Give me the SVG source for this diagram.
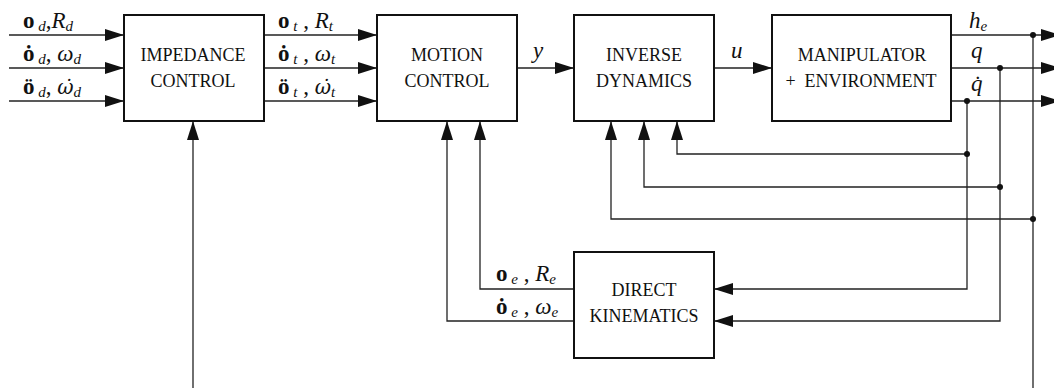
<svg xmlns="http://www.w3.org/2000/svg" width="1054" height="388" viewBox="0 0 1054 388">
<style>
.box{fill:#fff;stroke:#111;stroke-width:2}
.lbl{font-family:'Liberation Serif',serif;font-size:18px;fill:#111;text-anchor:middle}
.ln{fill:none;stroke:#222;stroke-width:1.3}
.m{font-family:'Liberation Serif',serif;font-size:23px;fill:#111;font-style:italic}
.b{font-weight:bold;font-style:normal}
.s{font-size:15px}
.dj{font-family:'DejaVu Serif',serif;font-size:20px}
.dot{fill:#111}
</style>
<defs>
<marker id="ah" markerUnits="userSpaceOnUse" markerWidth="19" markerHeight="12" refX="19" refY="6" orient="auto">
<path d="M0,0 L19,6 L0,12 z" fill="#111"/>
</marker>
</defs>
<g id="connectors">
<path class="ln" d="M9,35 H124" marker-end="url(#ah)"/>
<path class="ln" d="M9,68 H124" marker-end="url(#ah)"/>
<path class="ln" d="M9,101 H124" marker-end="url(#ah)"/>
<path class="ln" d="M264,35 H377" marker-end="url(#ah)"/>
<path class="ln" d="M264,68 H377" marker-end="url(#ah)"/>
<path class="ln" d="M264,101 H377" marker-end="url(#ah)"/>
<path class="ln" d="M517,68 H574" marker-end="url(#ah)"/>
<path class="ln" d="M714,68 H772" marker-end="url(#ah)"/>
<path class="ln" d="M951,35 H1060" marker-end="url(#ah)"/>
<path class="ln" d="M951,68 H1060" marker-end="url(#ah)"/>
<path class="ln" d="M951,101 H1060" marker-end="url(#ah)"/>
<path class="ln" d="M1033,35 V388"/>
<path class="ln" d="M1000,68 V321 H714" marker-end="url(#ah)"/>
<path class="ln" d="M967,101 V289 H714" marker-end="url(#ah)"/>
<path class="ln" d="M967,154 H677 V121" marker-end="url(#ah)"/>
<path class="ln" d="M1000,187 H644 V121" marker-end="url(#ah)"/>
<path class="ln" d="M1033,219 H611 V121" marker-end="url(#ah)"/>
<path class="ln" d="M574,289 H480 V121" marker-end="url(#ah)"/>
<path class="ln" d="M574,321 H447 V121" marker-end="url(#ah)"/>
<path class="ln" d="M193,388 V121" marker-end="url(#ah)"/>
<circle class="dot" cx="1033" cy="35" r="3"/>
<circle class="dot" cx="1000" cy="68" r="3"/>
<circle class="dot" cx="967" cy="101" r="3"/>
<circle class="dot" cx="967" cy="154" r="3"/>
<circle class="dot" cx="1000" cy="187" r="3"/>
<circle class="dot" cx="1033" cy="219" r="3"/>
</g>
<g id="impedance">
<rect class="box" x="124" y="15" width="140" height="106"/>
<text class="lbl" x="193" y="61">IMPEDANCE</text>
<text class="lbl" x="193" y="87">CONTROL</text>
</g>
<g id="motion">
<rect class="box" x="377" y="15" width="140" height="106"/>
<text class="lbl" x="447" y="61">MOTION</text>
<text class="lbl" x="447" y="87">CONTROL</text>
</g>
<g id="inverse">
<rect class="box" x="574" y="15" width="140" height="106"/>
<text class="lbl" x="644" y="61">INVERSE</text>
<text class="lbl" x="644" y="87">DYNAMICS</text>
</g>
<g id="manipulator">
<rect class="box" x="772" y="15" width="179" height="106"/>
<text class="lbl" x="862" y="61">MANIPULATOR</text>
<text class="lbl" x="861" y="87" xml:space="preserve">+  ENVIRONMENT</text>
</g>
<g id="direct">
<rect class="box" x="574" y="252" width="140" height="106"/>
<text class="lbl" x="644" y="296">DIRECT</text>
<text class="lbl" x="644" y="322">KINEMATICS</text>
</g>
<g id="labels">
<text class="m" x="23" y="28"><tspan class="b">o</tspan><tspan class="s" dy="3"> d</tspan><tspan dy="-3" font-style="normal">,</tspan>R<tspan class="s" dy="3">d</tspan></text>
<text class="m" x="23" y="61"><tspan class="b">ȯ</tspan><tspan class="s" dy="3"> d</tspan><tspan dy="-3" font-style="normal">, </tspan>ω<tspan class="s" dy="3">d</tspan></text>
<text class="m" x="23" y="94"><tspan class="b">ö</tspan><tspan class="s" dy="3"> d</tspan><tspan dy="-3" font-style="normal">, </tspan><tspan class="dj">ω̇</tspan><tspan class="s" dy="3">d</tspan></text>
<text class="m" x="278" y="28"><tspan class="b">o</tspan><tspan class="s" dy="3"> t</tspan><tspan dy="-3" font-style="normal"> , </tspan>R<tspan class="s" dy="3">t</tspan></text>
<text class="m" x="278" y="61"><tspan class="b">ȯ</tspan><tspan class="s" dy="3"> t</tspan><tspan dy="-3" font-style="normal"> , </tspan>ω<tspan class="s" dy="3">t</tspan></text>
<text class="m" x="278" y="94"><tspan class="b">ö</tspan><tspan class="s" dy="3"> t</tspan><tspan dy="-3" font-style="normal"> , </tspan><tspan class="dj">ω̇</tspan><tspan class="s" dy="3">t</tspan></text>
<text class="m" x="533" y="58">y</text>
<text class="m" x="731" y="58">u</text>
<text class="m" x="969" y="28">h<tspan class="s" dy="3">e</tspan></text>
<text class="m" x="971" y="58">q</text>
<text class="m" x="971" y="91">q̇</text>
<text class="m" x="496" y="281"><tspan class="b">o</tspan><tspan class="s" dy="3"> e</tspan><tspan dy="-3" font-style="normal"> , </tspan>R<tspan class="s" dy="3">e</tspan></text>
<text class="m" x="496" y="314"><tspan class="b">ȯ</tspan><tspan class="s" dy="3"> e</tspan><tspan dy="-3" font-style="normal"> , </tspan>ω<tspan class="s" dy="3">e</tspan></text>
</g>
</svg>
